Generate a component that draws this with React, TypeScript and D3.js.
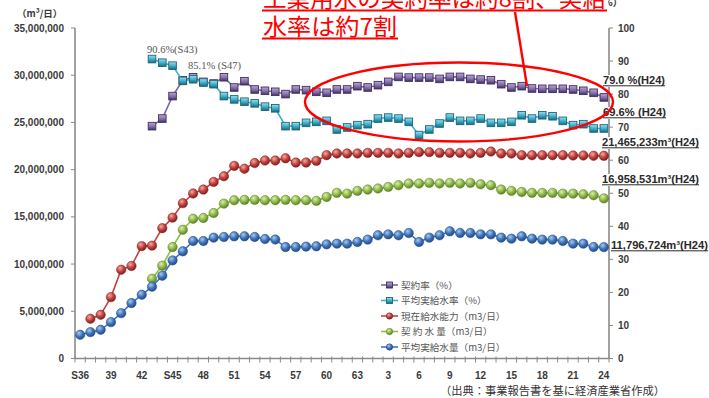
import React from 'react';
import * as d3 from 'd3';

// Fiscal years, Showa 36 .. Showa 63, Heisei 1 .. Heisei 24
const categories = [
  'S36','S37','S38','S39','S40','S41','S42','S43','S44','S45','S46','S47','S48','S49',
  'S50','S51','S52','S53','S54','S55','S56','S57','S58','S59','S60','S61','S62','S63',
  'H1','H2','H3','H4','H5','H6','H7','H8','H9','H10','H11','H12','H13','H14',
  'H15','H16','H17','H18','H19','H20','H21','H22','H23','H24',
];

// Labels shown under every third year
const tickLabels = ['S36','39','42','S45','48','51','54','57','60','63','3','6','9','12','15','18','21','24'];
const tickStep = 3;

// 現在給水能力 (m3/日)
const capacity = [
  null, 4210000, 4630000, 6500000, 9400000, 9800000, 11900000, 11950000, 13800000, 14920000,
  16450000, 17470000, 17890000, 18700000, 19300000, 20400000, 20100000, 20700000, 20970000, 20970000,
  21200000, 20750000, 20750000, 20930000, 21530000, 21710000, 21710000, 21710000, 21780000, 21780000,
  21780000, 21710000, 21780000, 21850000, 21850000, 21780000, 21780000, 21780000, 21710000, 21780000,
  21920000, 21710000, 21710000, 21530000, 21530000, 21530000, 21530000, 21530000, 21500000, 21500000,
  21470000, 21465233,
];

// 契約水量 (m3/日)
const contractVolume = [
  null, null, null, null, null, null, null, 8450000, 9830000, 11800000,
  13630000, 14800000, 14880000, 15410000, 16400000, 16760000, 16800000, 16800000, 16760000, 16760000,
  16800000, 16760000, 16760000, 16690000, 17110000, 17540000, 17460000, 17750000, 17890000, 18000000,
  18170000, 18350000, 18530000, 18530000, 18600000, 18530000, 18600000, 18530000, 18600000, 18450000,
  18350000, 17890000, 17750000, 17640000, 17540000, 17540000, 17540000, 17460000, 17460000, 17390000,
  17290000, 16958531,
];

// 平均実給水量 (m3/日)
const avgSupply = [
  2510000, 2790000, 3040000, 3850000, 4800000, 5870000, 6750000, 7600000, 8770000, 10390000,
  11350000, 12440000, 12440000, 12800000, 12870000, 12940000, 12940000, 12870000, 12650000, 12600000,
  11800000, 11800000, 11850000, 11880000, 12090000, 12160000, 12160000, 12340000, 12590000, 13050000,
  13150000, 13050000, 13290000, 12340000, 12800000, 13050000, 13470000, 13290000, 13290000, 13150000,
  13150000, 12800000, 12690000, 12940000, 12690000, 12590000, 12590000, 12440000, 12160000, 12160000,
  11810000, 11796724,
];

// 契約率 (%)
const contractRate = [
  null, null, null, null, null, null, null, 70.3, 72.6, 79.4,
  84.2, 85.1, 83.7, 83.2, 85.1, 82.0, 83.9, 81.4, 81.0, 80.7,
  80.0, 81.4, 81.2, 80.7, 80.4, 81.4, 81.4, 82.4, 82.0, 82.7,
  83.7, 85.2, 85.0, 85.0, 85.0, 84.6, 85.2, 85.2, 84.6, 84.4,
  84.2, 83.0, 82.0, 82.4, 81.7, 81.6, 81.6, 81.6, 81.4, 81.0,
  80.4, 79.0,
];

// 平均実給水率 (%)
const supplyRate = [
  null, null, null, null, null, null, null, 90.6, 89.5, 88.6,
  84.0, 84.5, 83.5, 83.0, 79.4, 78.4, 77.7, 77.2, 76.2, 75.7,
  70.3, 70.3, 71.3, 71.6, 71.9, 69.3, 69.9, 70.6, 70.9, 72.6,
  72.9, 72.6, 71.6, 67.6, 69.3, 71.1, 72.9, 71.9, 71.9, 72.6,
  71.3, 71.3, 71.6, 73.6, 72.6, 73.6, 73.3, 71.9, 70.6, 70.9,
  69.6, 69.6,
];

const leftTicks = [0, 5000000, 10000000, 15000000, 20000000, 25000000, 30000000, 35000000];
const rightTicks = [0, 10, 20, 30, 40, 50, 60, 70, 80, 90, 100];

const legendLabels = [
  '契約率（%）',
  '平均実給水率（%）',
  '現在給水能力（m3/日）',
  '契 約 水 量（m3/日）',
  '平均実給水量（m3/日）',
];

const W = 709;
const H = 398;
const plotLeft = 75;
const plotRight = 609;
const plotTop = 28;
const plotBottom = 358.5;

const JP = '"Noto Sans CJK JP", "Noto Sans", sans-serif';
const NUM = '"Liberation Sans", Arial, sans-serif';
const SERIF = '"Liberation Serif", "DejaVu Serif", serif';

type Series = {
  key: string;
  values: (number | null)[];
  axis: 'left' | 'right';
  line: string;
  base: string;
  light: string;
  dark: string;
  shape: 'square' | 'circle';
};

const series: Series[] = [
  { key: 'purple', values: contractRate, axis: 'right', line: '#7d67a3', base: '#7f68a6', light: '#b8a8d4', dark: '#3f2f5e', shape: 'square' },
  { key: 'cyan', values: supplyRate, axis: 'right', line: '#3fb0c9', base: '#31a6c2', light: '#9fe0ef', dark: '#1d6678', shape: 'square' },
  { key: 'red', values: capacity, axis: 'left', line: '#c9403c', base: '#c0403c', light: '#f4aaa6', dark: '#7a1e1b', shape: 'circle' },
  { key: 'green', values: contractVolume, axis: 'left', line: '#8fbf3f', base: '#8fb84a', light: '#d8efaa', dark: '#5a7d22', shape: 'circle' },
  { key: 'blue', values: avgSupply, axis: 'left', line: '#3f74bd', base: '#3f73b8', light: '#a9c9f0', dark: '#1f4a85', shape: 'circle' },
];

function Marker({ s, x, y, size }: { s: Series; x: number; y: number; size: number }) {
  if (s.shape === 'circle') {
    return <circle cx={x} cy={y} r={size / 2} fill={`url(#g-${s.key})`} stroke={s.dark} strokeWidth={0.5} />;
  }
  return (
    <rect x={x - size / 2} y={y - size / 2} width={size} height={size}
      fill={`url(#g-${s.key})`} stroke={s.dark} strokeWidth={0.9} />
  );
}

export default function App() {
  const x = d3.scaleBand<string>().domain(categories).range([plotLeft, plotRight]);
  const cx = (i: number) => (x(categories[i]) as number) + x.bandwidth() / 2;
  const yL = d3.scaleLinear().domain([0, 35000000]).range([plotBottom, plotTop]);
  const yR = d3.scaleLinear().domain([0, 100]).range([plotBottom, plotTop]);
  const yOf = (s: Series) => (s.axis === 'left' ? yL : yR);

  const lineFor = (s: Series) =>
    d3.line<number | null>()
      .defined((d) => d != null)
      .x((_, i) => cx(i))
      .y((d) => yOf(s)(d as number))(s.values) || '';

  const last = categories.length - 1;
  const fmtInt = d3.format(',');
  const fmtPct = d3.format('.1f');

  const endLabels = [
    { text: `${fmtPct(contractRate[last] as number)} %(H24)`, x: 603, y: 84, w: 62 },
    { text: `${fmtPct(supplyRate[last] as number)}% (H24)`, x: 603, y: 116, w: 63 },
    { text: `${fmtInt(capacity[last] as number)}m³(H24)`, x: 602, y: 146, w: 97 },
    { text: `${fmtInt(contractVolume[last] as number)}m³(H24)`, x: 602, y: 183, w: 97 },
    { text: `${fmtInt(avgSupply[last] as number)}m³(H24)`, x: 611, y: 249, w: 97 },
  ];

  const bandEdges = d3.range(categories.length + 1).map((i) => plotLeft + i * x.step());

  return (
    <svg width={W} height={H} viewBox={`0 0 ${W} ${H}`}
      style={{ position: 'absolute', left: 0, top: 0, background: '#fff' }}>
      <defs>
        {series.map((s) =>
          s.shape === 'circle' ? (
            <radialGradient key={s.key} id={`g-${s.key}`} cx="38%" cy="32%" r="70%">
              <stop offset="0%" stopColor={s.light} />
              <stop offset="55%" stopColor={s.base} />
              <stop offset="100%" stopColor={s.dark} />
            </radialGradient>
          ) : (
            <linearGradient key={s.key} id={`g-${s.key}`} x1="0" y1="0" x2="0" y2="1">
              <stop offset="0%" stopColor={s.light} />
              <stop offset="60%" stopColor={s.base} />
              <stop offset="100%" stopColor={s.dark} />
            </linearGradient>
          ),
        )}
      </defs>
      <rect x={0} y={0} width={W} height={H} fill="#fff" />

      {/* axes */}
      <g stroke="#8a8a8a" fill="none">
        <line x1={plotLeft} y1={plotTop} x2={plotLeft} y2={plotBottom} strokeWidth={1.6} />
        <line x1={plotRight} y1={plotTop} x2={plotRight} y2={plotBottom} strokeWidth={1.6} />
        <line x1={plotLeft} y1={plotBottom} x2={plotRight} y2={plotBottom} strokeWidth={1.4} />
        {leftTicks.map((t) => (
          <line key={`lt${t}`} x1={plotLeft - 4} x2={plotLeft} y1={yL(t)} y2={yL(t)} strokeWidth={1} />
        ))}
        {rightTicks.map((t) => (
          <line key={`rt${t}`} x1={plotRight} x2={plotRight + 4} y1={yR(t)} y2={yR(t)} strokeWidth={1} />
        ))}
        {bandEdges.map((bx, i) => (
          <line key={`xt${i}`} x1={bx} x2={bx} y1={plotBottom - 2} y2={plotBottom + 4} strokeWidth={1} />
        ))}
      </g>

      {/* axis labels */}
      <g fontFamily={NUM} fontWeight="bold" fontSize={10} fill="#3a3a3a">
        {leftTicks.map((t) => (
          <text key={`ll${t}`} x={64} y={yL(t) + 3.5} textAnchor="end">{fmtInt(t)}</text>
        ))}
        {rightTicks.map((t) => (
          <text key={`rl${t}`} x={618} y={yR(t) + 3.5}>{t}</text>
        ))}
        {tickLabels.map((lab, k) => (
          <text key={`xl${k}`} x={cx(k * tickStep)} y={379} textAnchor="middle">{lab}</text>
        ))}
      </g>
      <text x={17} y={17} fontFamily={JP} fontWeight="bold" fontSize={9.5} fill="#3a3a3a">（m³/日）</text>
      <text x={594} y={6} fontFamily={JP} fontWeight="bold" fontSize={9.5} fill="#3a3a3a">（%）</text>

      {/* series */}
      {series.map((s) => (
        <g key={s.key}>
          <path d={lineFor(s)} fill="none" stroke={s.line} strokeWidth={1.6} />
          {s.values.map((v, i) =>
            v == null ? null : <Marker key={i} s={s} x={cx(i)} y={yOf(s)(v)} size={s.shape === 'circle' ? 9.4 : 7.6} />,
          )}
        </g>
      ))}

      {/* peak notes */}
      <g fontFamily={SERIF} fontSize={10.5} fill="#555">
        <text x={147} y={53}>{`${fmtPct(supplyRate[7] as number)}%(S43)`}</text>
        <text x={188} y={69}>{`${fmtPct(contractRate[11] as number)}% (S47)`}</text>
      </g>

      {/* latest-year values */}
      <g fontFamily={NUM} fontWeight="bold" fontSize={11} fill="#2a2a2a">
        {endLabels.map((l, i) => (
          <g key={i}>
            <rect x={l.x - 1} y={l.y - 9} width={l.w + 2} height={12} fill="#fff" />
            <text x={l.x} y={l.y} textLength={l.w} lengthAdjust="spacingAndGlyphs">{l.text}</text>
            <line x1={l.x} x2={l.x + l.w} y1={l.y + 1.8} y2={l.y + 1.8} stroke="#2a2a2a" strokeWidth={1} />
          </g>
        ))}
      </g>

      {/* legend */}
      <g fontFamily={JP} fontSize={9.6} fill="#555">
        {legendLabels.map((lab, i) => {
          const s = series[i];
          const ly = 285 + i * 15.5;
          return (
            <g key={lab}>
              <line x1={381} x2={398} y1={ly} y2={ly} stroke={s.line} strokeWidth={1.6} />
              <Marker s={s} x={389.5} y={ly} size={s.shape === 'circle' ? 6.4 : 6} />
              <text x={401} y={ly + 3.5}>{lab}</text>
            </g>
          );
        })}
      </g>

      {/* source */}
      <text x={440} y={395} fontFamily={JP} fontSize={11} fill="#333" textLength={225} lengthAdjust="spacingAndGlyphs">
        （出典：事業報告書を基に経済産業省作成）
      </text>

      {/* callout */}
      <ellipse cx={459} cy={102} rx={154} ry={39.5} fill="none" stroke="#ff0000" strokeWidth={2.4} />
      <line x1={515} y1={12} x2={527} y2={86} stroke="#ff0000" strokeWidth={2.4} />
      <g fontFamily={JP} fontSize={23} fill="#ff0000">
        <rect x={262} y={-20} width={346} height={29} fill="#fff" />
        <text x={263} y={7} textLength={343} lengthAdjust="spacingAndGlyphs">工業用水の契約率は約8割、実給</text>
        <text x={263} y={35} textLength={134} lengthAdjust="spacingAndGlyphs">水率は約7割</text>
        <line x1={262} x2={607} y1={10.5} y2={10.5} stroke="#ff0000" strokeWidth={2} />
        <line x1={262} x2={398} y1={38.5} y2={38.5} stroke="#ff0000" strokeWidth={2} />
      </g>
    </svg>
  );
}
